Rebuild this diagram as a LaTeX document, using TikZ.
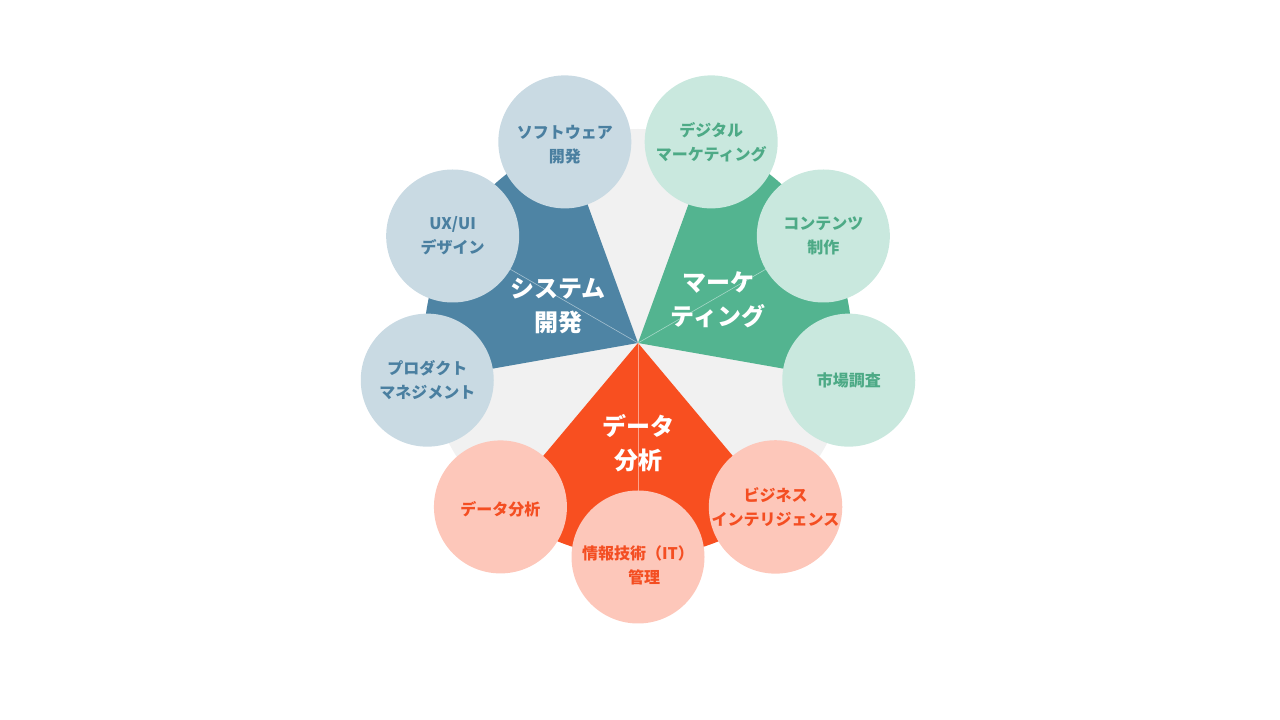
\documentclass[tikz,border=0pt]{standalone}
\usepackage{fontspec}
\setmainfont{Noto Sans CJK JP}
\definecolor{bg}{HTML}{F1F1F1}
\definecolor{blueS}{HTML}{4E84A4}
\definecolor{blueL}{HTML}{C9DAE3}
\definecolor{blueT}{HTML}{4A7FA0}
\definecolor{greenS}{HTML}{53B490}
\definecolor{greenL}{HTML}{C9E8DE}
\definecolor{greenT}{HTML}{4DAA86}
\definecolor{orangeS}{HTML}{F84F20}
\definecolor{orangeL}{HTML}{FDC7BA}
\definecolor{orangeT}{HTML}{F44E22}
\tikzset{
  bubble/.style={circle, minimum size=133pt, inner sep=0pt, align=center,
    font=\fontsize{16}{24}\selectfont\bfseries},
  bblue/.style={bubble, fill=blueL, text=blueT},
  bgreen/.style={bubble, fill=greenL, text=greenT},
  borange/.style={bubble, fill=orangeL, text=orangeT},
  sectlabel/.style={align=center, text=white, font=\fontsize{24}{34}\selectfont\bfseries},
  spoke/.style={line width=0.6pt}
}
\begin{document}
\begin{tikzpicture}[x=1pt,y=1pt]
\useasboundingbox (0,0) rectangle (1280,720);
\coordinate (c) at (638,377);
% background disc
\fill[bg] (c) circle[radius=214pt];
% sectors
\fill[blueS] (c) -- ++(110:214pt) arc[start angle=110, end angle=190, radius=214pt] -- cycle;
\fill[greenS] (c) -- ++(-10:214pt) arc[start angle=-10, end angle=70, radius=214pt] -- cycle;
\fill[orangeS] (c) -- ++(-130:214pt) arc[start angle=-130, end angle=-50, radius=214pt] -- cycle;
% bubble positions
\path (c) ++(110:214pt) coordinate (pb1);
\path (c) ++(150:214pt) coordinate (pb2);
\path (c) ++(190:214pt) coordinate (pb3);
\path (c) ++(70:214pt) coordinate (pg1);
\path (c) ++(30:214pt) coordinate (pg2);
\path (c) ++(-10:214pt) coordinate (pg3);
\path (c) ++(-130:214pt) coordinate (po1);
\path (c) ++(-90:214pt) coordinate (po2);
\path (c) ++(-50:214pt) coordinate (po3);
% spokes
\draw[spoke, blueL!70!blueS] (c) -- (pb2);
\draw[spoke, greenL!70!greenS] (c) -- (pg2);
\draw[spoke, orangeL!70!orangeS] (c) -- (po2);
% sector labels
\node[sectlabel] (lb) at (558,414) {システム\\開発};
\node[sectlabel] (lg) at (718,420) {マーケ\\ティング};
\node[sectlabel] (lo) at (638,277) {データ\\分析};
% bubbles
\node[bblue] (b1) at (pb1) {};
\node[bblue] (b2) at (pb2) {UX/UI\\デザイン};
\node[bblue] (b3) at (pb3) {プロダクト\\マネジメント};
\node[bgreen] (g1) at (pg1) {デジタル\\マーケティング};
\node[bgreen] (g2) at (pg2) {コンテンツ\\制作};
\node[bgreen] (g3) at (pg3) {市場調査};
\node[borange] (o1) at (po1) {};
\node[borange] (o2) at (po2) {};
\node[borange] (o3) at (po3) {ビジネス\\インテリジェンス};
% bubble texts that sit off-centre
\node[align=center, text=blueT, font=\fontsize{16}{24}\selectfont\bfseries, inner sep=0pt]
  (t1) at ([yshift=-3pt]b1.center) {ソフトウェア\\開発};
\node[align=center, text=orangeT, font=\fontsize{16}{24}\selectfont\bfseries, inner sep=0pt]
  (t2) at ([yshift=-2pt]o1.center) {データ分析};
\node[align=center, text=orangeT, font=\fontsize{16}{24}\selectfont\bfseries, inner sep=0pt]
  (t3) at ([yshift=-8pt]o2.center) {情報技術（IT）\\\hspace*{12pt}管理};
\end{tikzpicture}
\end{document}
